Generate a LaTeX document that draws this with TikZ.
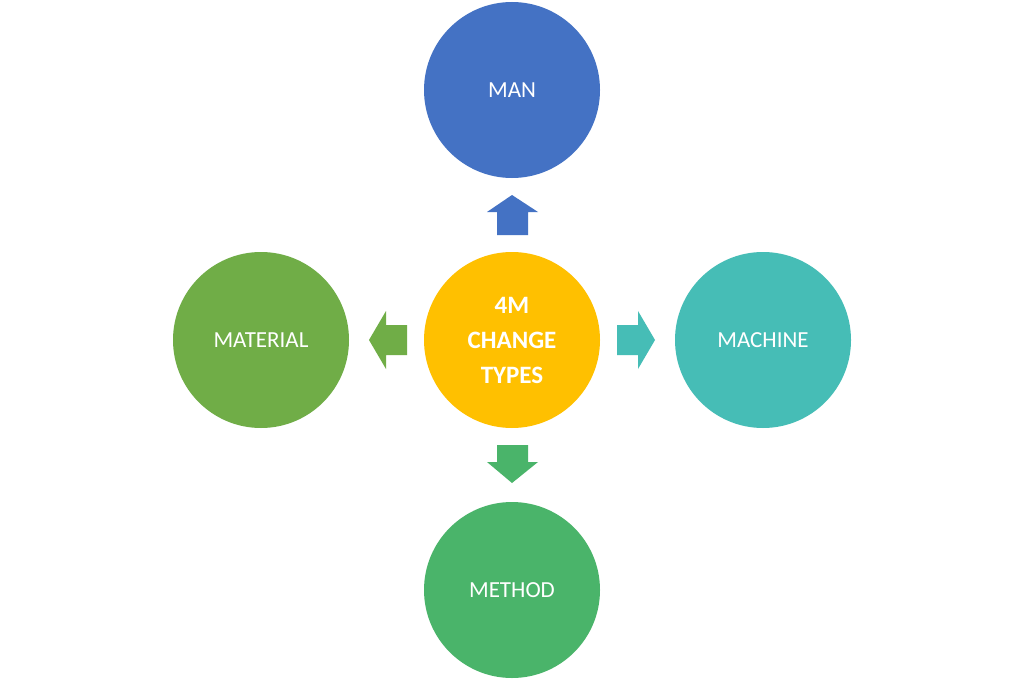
\documentclass[tikz,border=0pt]{standalone}
\usepackage{fontspec}
\setmainfont{Carlito}
\definecolor{cman}{HTML}{4472C4}
\definecolor{ccen}{HTML}{FFC000}
\definecolor{cmat}{HTML}{70AD47}
\definecolor{cmac}{HTML}{46BDB6}
\definecolor{cmet}{HTML}{4AB46A}
\begin{document}
\begin{tikzpicture}[x=1pt,y=-1pt,
  circ/.style={circle,minimum size=176pt,inner sep=0pt,text=white,font=\fontsize{23}{26}\selectfont,align=center}]
\useasboundingbox (0,0) rectangle (1024,682);
\fill[white] (0,0) rectangle (1024,682);
\node[circ,fill=ccen,font=\bfseries\fontsize{25}{35}\selectfont] (c) at (512,340) {4M\\CHANGE\\TYPES};
\node[circ,fill=cman] (man) at (512,90) {MAN};
\node[circ,fill=cmat] (mat) at (261,340) {MATERIAL};
\node[circ,fill=cmac] (mac) at (763,340) {MACHINE};
\node[circ,fill=cmet] (met) at (512,590) {METHOD};
% up
\fill[cman] (497,235) -- (497,212) -- (487,212) -- (512,195) -- (538,212) -- (528,212) -- (528,235) -- cycle;
% down
\fill[cmet] (497,445) -- (497,462) -- (487,462) -- (512,483) -- (538,462) -- (528,462) -- (528,445) -- cycle;
% left
\fill[cmat] (407,325) -- (386,325) -- (386,311) -- (369,340) -- (386,369) -- (386,355) -- (407,355) -- cycle;
% right
\fill[cmac] (617,325) -- (638,325) -- (638,311) -- (655,340) -- (638,369) -- (638,355) -- (617,355) -- cycle;
\end{tikzpicture}
\end{document}
